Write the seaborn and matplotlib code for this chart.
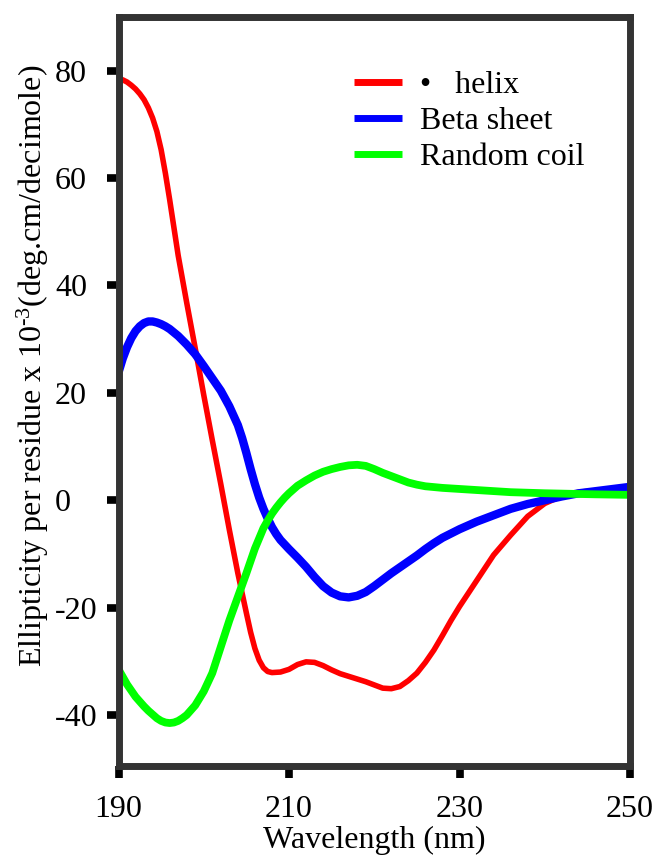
import matplotlib
matplotlib.use("Agg")
import matplotlib.pyplot as plt
import numpy as np
import pandas as pd
import seaborn as sns

# CD spectra of the three reference secondary structures
helix_wl = [190, 190.5, 191, 191.5, 192, 192.5, 193, 193.5, 194, 194.5, 195, 195.5,
            196, 196.5, 197, 198, 199, 200, 201, 202, 203, 204, 205, 205.5, 206,
            206.5, 207, 207.5, 208, 209, 210, 211, 212, 213, 214, 215, 216, 217,
            218, 219, 220, 221, 222, 223, 224, 225, 226, 227, 228, 229, 230, 232,
            234, 236, 238, 240, 242, 244, 246, 248, 250]
helix_val = [78.5, 78.3, 77.9, 77.3, 76.6, 75.7, 74.6, 73.1, 71.2, 68.7, 65.3, 60.9,
             56.0, 50.8, 45.6, 36.8, 28.3, 19.6, 11.2, 3.0, -5.5, -13.6, -21.0, -24.6,
             -27.6, -29.8, -31.2, -31.9, -32.1, -32.0, -31.5, -30.6, -30.1, -30.2,
             -30.8, -31.6, -32.3, -32.8, -33.3, -33.8, -34.4, -35.0, -35.1, -34.7,
             -33.6, -32.2, -30.2, -27.9, -25.2, -22.4, -19.8, -15.0, -10.2, -6.5,
             -3.0, -0.6, 0.8, 1.5, 1.8, 2.0, 2.1]

beta_wl = [190, 190.5, 191, 191.5, 192, 192.5, 193, 193.5, 194, 194.5, 195, 195.5,
           196, 197, 198, 199, 200, 201, 202, 203, 204, 204.5, 205, 205.5, 206,
           206.5, 207, 207.5, 208, 208.5, 209, 210, 211, 212, 213, 214, 215, 216,
           217, 218, 219, 220, 221, 222, 223, 224, 225, 226, 227, 228, 229, 230,
           232, 234, 236, 238, 240, 242, 244, 246, 248, 250]
beta_val = [23.8, 26.4, 28.5, 30.2, 31.5, 32.4, 33.0, 33.3, 33.3, 33.1, 32.8, 32.4,
            31.9, 30.6, 29.0, 27.2, 25.0, 22.7, 20.4, 17.5, 14.0, 11.6, 8.8, 5.8,
            3.0, 0.5, -1.6, -3.4, -5.0, -6.3, -7.4, -9.1, -10.7, -12.4, -14.3,
            -16.0, -17.2, -17.9, -18.1, -17.8, -17.1, -16.0, -14.8, -13.6, -12.5,
            -11.4, -10.3, -9.1, -8.0, -7.0, -6.2, -5.4, -4.0, -2.8, -1.6, -0.7,
            0.0, 0.7, 1.3, 1.7, 2.1, 2.5]

coil_wl = [190, 191, 192, 193, 193.5, 194, 194.5, 195, 195.5, 196, 196.5, 197,
           197.5, 198, 199, 200, 201, 202, 203, 204, 205, 206, 207, 207.5, 208,
           208.5, 209, 209.5, 210, 211, 212, 213, 214, 215, 216, 217, 218, 219,
           220, 221, 222, 223, 224, 225, 226, 228, 230, 232, 234, 236, 238, 240,
           243, 246, 250]
coil_val = [-31.5, -34.3, -36.6, -38.4, -39.2, -39.9, -40.6, -41.1, -41.4, -41.5,
            -41.4, -41.1, -40.6, -40.0, -38.2, -35.6, -32.2, -27.3, -22.4, -18.0,
            -13.6, -9.0, -5.2, -3.8, -2.5, -1.4, -0.4, 0.5, 1.3, 2.7, 3.7, 4.6, 5.3,
            5.8, 6.2, 6.5, 6.6, 6.4, 5.8, 5.1, 4.5, 3.9, 3.3, 2.9, 2.6, 2.3, 2.1,
            1.9, 1.7, 1.5, 1.4, 1.3, 1.2, 1.1, 1.0]

series_names = ["\u2022   helix", "Beta sheet", "Random coil"]
series_colors = ["#ff0000", "#0000ff", "#00ff00"]
series_widths = [4.0, 6.0, 5.6]

x_ticks = [190, 210, 230, 250]
y_ticks = [-40, -20, 0, 20, 40, 60, 80]

sns.set_style("ticks")
plt.rcParams["font.family"] = ["Liberation Serif", "DejaVu Serif"]
plt.rcParams["mathtext.fontset"] = "custom"
plt.rcParams["mathtext.rm"] = "Liberation Serif"
plt.rcParams["mathtext.it"] = "Liberation Serif:italic"
plt.rcParams["text.color"] = "black"
plt.rcParams["axes.labelcolor"] = "black"

FS = 23
W, H = 653, 857
fig = plt.figure(figsize=(W / 100, H / 100), dpi=100)
left, right, top, bottom = 118.5, 630, 16.5, 766
ax = fig.add_axes([left / W, 1 - bottom / H, (right - left) / W, (bottom - top) / H])

frames = [
    pd.DataFrame({"wl": helix_wl, "val": helix_val}),
    pd.DataFrame({"wl": beta_wl, "val": beta_val}),
    pd.DataFrame({"wl": coil_wl, "val": coil_val}),
]
handles = []
for df, name, col, lw in zip(frames, series_names, series_colors, series_widths):
    sns.lineplot(data=df, x="wl", y="val", color=col, lw=lw, ax=ax,
                 solid_capstyle="butt", solid_joinstyle="round")
    handles.append(plt.Line2D([], [], color=col, lw=5.0, solid_capstyle="butt"))

ax.set_xlim(190, 250)
ax.set_ylim(-49.5, 90.1)
ax.set_xticks(x_ticks)
ax.set_xticklabels([str(t) for t in x_ticks])
ax.set_yticks(y_ticks)
ax.set_yticklabels([str(t) for t in y_ticks])

for sp in ax.spines.values():
    sp.set_visible(True)
    sp.set_color("#333333")
    sp.set_linewidth(5)

ax.tick_params(axis="both", which="major", direction="out", color="black",
               width=5.5, labelsize=FS, labelcolor="black",
               bottom=True, left=True, top=False, right=False)
ax.tick_params(axis="y", length=9, pad=36.7)
ax.tick_params(axis="x", length=8.5, pad=12.5)
for lab in ax.get_yticklabels():
    lab.set_horizontalalignment("left")

ax.set_xlabel("Wavelength (nm)", fontsize=FS, color="black")
ax.xaxis.set_label_coords(0.5, -(826 - bottom) / (bottom - top))
ax.set_ylabel("")
fig.text(42 / W, 1 - 366 / H,
         "Ellipticity per residue x 10$^{\\text{-3}}$(deg.cm/decimole)",
         rotation=90, rotation_mode="anchor", ha="center", va="baseline",
         fontsize=FS, color="black")

leg = ax.legend(handles, series_names, loc="upper left",
                bbox_to_anchor=(354 / W, 1 - 71 / H), bbox_transform=fig.transFigure,
                frameon=False, fontsize=FS, handlelength=1.5, handletextpad=0.57,
                labelspacing=0.2, borderpad=0, borderaxespad=0)

fig.savefig("out.png", dpi=100)
